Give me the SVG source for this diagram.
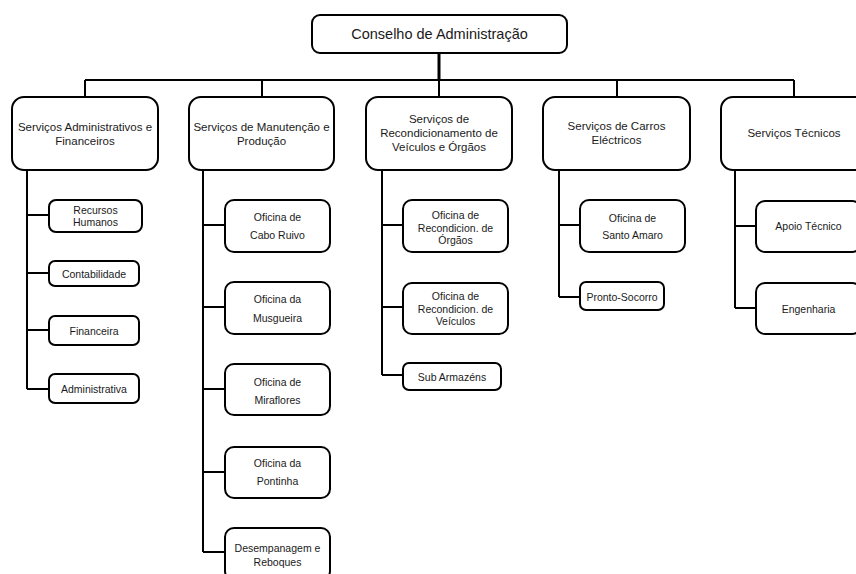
<svg xmlns="http://www.w3.org/2000/svg" width="856" height="574" viewBox="0 0 856 574">
<style>
  .box { fill: #ffffff; stroke: #000000; stroke-width: 2; }
  .ln { fill: none; stroke: #000000; stroke-width: 2; }
  text { font-family: "Liberation Sans", Arial, sans-serif; fill: #1a1a1a; text-anchor: middle; dominant-baseline: central; }
  .t0 { font-size: 14.5px; }
  .t1 { font-size: 11.5px; }
  .t2 { font-size: 10.5px; }
</style>
<rect width="856" height="574" fill="#ffffff"/>
<g id="connectors">
  <path class="ln" style="stroke-width:3" d="M439,53 V80"/>
  <path class="ln" d="M85,80 H794 M85,80 V97 M262,80 V97 M439,80 V97 M617,80 V97 M794,80 V97"/>
  <path class="ln" d="M27,170 V389 M27,215 H49 M27,273 H49 M27,330 H49 M27,389 H49"/>
  <path class="ln" d="M203,170 V552 M203,225 H225 M203,307 H225 M203,389 H225 M203,472 H225 M203,552 H225"/>
  <path class="ln" d="M382,170 V375 M382,225 H403 M382,307 H403 M382,375 H403"/>
  <path class="ln" d="M559,170 V297 M559,225 H580 M559,297 H580"/>
  <path class="ln" d="M735,170 V308 M735,226 H756 M735,308 H756"/>
</g>
<g id="conselho">
  <rect class="box" x="312" y="15" width="255" height="38" rx="8"/>
  <text class="t0" x="439.5" y="34">Conselho de Administração</text>
</g>
<g id="sadm">
  <rect class="box" x="12" y="97" width="146" height="73" rx="12"/>
  <text class="t1" x="85" y="127">Serviços Administrativos e</text>
  <text class="t1" x="85" y="141">Financeiros</text>
</g>
<g id="smanut">
  <rect class="box" x="189" y="97" width="145" height="73" rx="12"/>
  <text class="t1" x="261.5" y="127">Serviços de Manutenção e</text>
  <text class="t1" x="261.5" y="141">Produção</text>
</g>
<g id="srecond">
  <rect class="box" x="366" y="97" width="146" height="73" rx="12"/>
  <text class="t1" x="439" y="119">Serviços de</text>
  <text class="t1" x="439" y="133">Recondicionamento de</text>
  <text class="t1" x="439" y="147">Veículos e Órgãos</text>
</g>
<g id="scarros">
  <rect class="box" x="543" y="97" width="147" height="73" rx="12"/>
  <text class="t1" x="616.5" y="126">Serviços de Carros</text>
  <text class="t1" x="616.5" y="140">Eléctricos</text>
</g>
<g id="stecnicos">
  <rect class="box" x="721" y="97" width="146" height="73" rx="12"/>
  <text class="t1" x="794" y="133">Serviços Técnicos</text>
</g>
<g id="rh">
  <rect class="box" x="49" y="200" width="93" height="32" rx="7"/>
  <text class="t2" x="95.5" y="210">Recursos</text>
  <text class="t2" x="95.5" y="222">Humanos</text>
</g>
<g id="contab">
  <rect class="box" x="49" y="261" width="90" height="25" rx="6"/>
  <text class="t2" x="94" y="273.5">Contabilidade</text>
</g>
<g id="financ">
  <rect class="box" x="49" y="316" width="90" height="29" rx="6"/>
  <text class="t2" x="94" y="330.5">Financeira</text>
</g>
<g id="admin">
  <rect class="box" x="49" y="374" width="90" height="29" rx="6"/>
  <text class="t2" x="94" y="388.5">Administrativa</text>
</g>
<g id="caboruivo">
  <rect class="box" x="225" y="200" width="105" height="52" rx="9"/>
  <text class="t2" x="277.5" y="217">Oficina de</text>
  <text class="t2" x="277.5" y="235">Cabo Ruivo</text>
</g>
<g id="musgueira">
  <rect class="box" x="225" y="282" width="105" height="52" rx="9"/>
  <text class="t2" x="277.5" y="299">Oficina da</text>
  <text class="t2" x="277.5" y="318">Musgueira</text>
</g>
<g id="miraflores">
  <rect class="box" x="225" y="364" width="105" height="51" rx="9"/>
  <text class="t2" x="277.5" y="382">Oficina de</text>
  <text class="t2" x="277.5" y="400">Miraflores</text>
</g>
<g id="pontinha">
  <rect class="box" x="225" y="447" width="105" height="51" rx="9"/>
  <text class="t2" x="277.5" y="463">Oficina da</text>
  <text class="t2" x="277.5" y="481">Pontinha</text>
</g>
<g id="desempanagem">
  <rect class="box" x="225" y="528" width="105" height="52" rx="9"/>
  <text class="t2" x="277.5" y="548">Desempanagem e</text>
  <text class="t2" x="277.5" y="562">Reboques</text>
</g>
<g id="orgaos">
  <rect class="box" x="403" y="200" width="105" height="52" rx="9"/>
  <text class="t2" x="455.5" y="215">Oficina de</text>
  <text class="t2" x="455.5" y="227.5">Recondicion. de</text>
  <text class="t2" x="455.5" y="240">Órgãos</text>
</g>
<g id="veiculos">
  <rect class="box" x="403" y="283" width="105" height="51" rx="9"/>
  <text class="t2" x="455.5" y="296">Oficina de</text>
  <text class="t2" x="455.5" y="308.5">Recondicion. de</text>
  <text class="t2" x="455.5" y="321">Veículos</text>
</g>
<g id="subarmazens">
  <rect class="box" x="403" y="363" width="98" height="27" rx="6"/>
  <text class="t2" x="452" y="377">Sub Armazéns</text>
</g>
<g id="santoamaro">
  <rect class="box" x="580" y="200" width="105" height="52" rx="9"/>
  <text class="t2" x="632.5" y="218">Oficina de</text>
  <text class="t2" x="632.5" y="235">Santo Amaro</text>
</g>
<g id="prontosocorro">
  <rect class="box" x="580" y="282" width="84" height="28" rx="6"/>
  <text class="t2" x="622" y="297">Pronto-Socorro</text>
</g>
<g id="apoio">
  <rect class="box" x="756" y="201" width="105" height="51" rx="9"/>
  <text class="t2" x="808.5" y="226">Apoio Técnico</text>
</g>
<g id="engenharia">
  <rect class="box" x="756" y="283" width="105" height="51" rx="9"/>
  <text class="t2" x="808.5" y="309">Engenharia</text>
</g>
</svg>
